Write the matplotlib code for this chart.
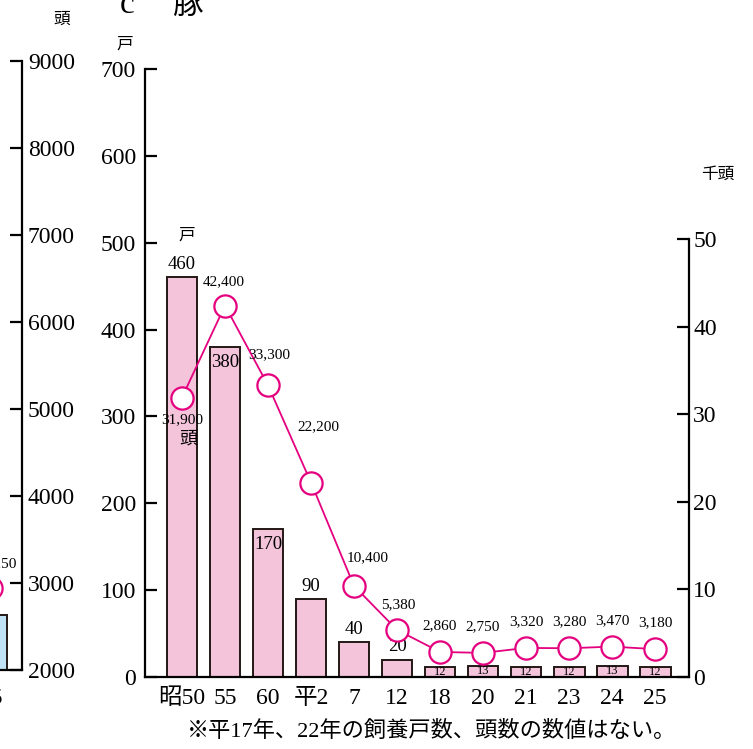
import matplotlib
matplotlib.use('Agg')
import matplotlib.pyplot as plt

plt.rcParams['font.family'] = ['Liberation Serif', 'Noto Sans CJK JP']

# data
years = ['昭50', '55', '60', '平2', '7', '12', '18', '20', '21', '23', '24', '25']
farms = [460, 380, 170, 90, 40, 20, 12, 13, 12, 12, 13, 12]          # 戸
heads = [31.9, 42.4, 33.3, 22.2, 10.4, 5.38, 2.86, 2.75, 3.32, 3.28, 3.47, 3.18]  # 千頭
head_labels = ['31,900', '42,400', '33,300', '22,200', '10,400', '5,380',
               '2,860', '2,750', '3,320', '3,280', '3,470', '3,180']

# fragment of the previous chart (cut off at the left edge)
prev_years = ['25']
prev_value = [2630]
prev_line = [2940]
prev_label = ['3,150']

PINK = '#f4c4db'
MAG = '#e4007f'
EDGE = '#231815'
BLUE = '#bfe3f5'

W, H = 753, 749
fig = plt.figure(figsize=(W / 100, H / 100), dpi=100)


def rect(x0, ytop, x1, ybot):
    return [x0 / W, 1 - ybot / H, (x1 - x0) / W, (ybot - ytop) / H]


# ---- main chart
ax = fig.add_axes(rect(145, 69, 689, 677))
xs = list(range(len(years)))
ax.bar(xs, farms, width=0.72, color=PINK, edgecolor=EDGE, linewidth=1.4, zorder=2)
ax.set_xlim(-0.86, 11.79)
ax.set_ylim(0, 700)
ax.set_yticks(range(0, 701, 100))
ax.set_xticks(xs)
ax.set_xticklabels(years)
for s in ['top', 'right']:
    ax.spines[s].set_visible(False)
ax.spines['left'].set_linewidth(1.6)
ax.spines['bottom'].set_linewidth(1.6)
ax.tick_params(axis='y', direction='in', length=8.6, width=1.6, pad=6.5, labelsize=17)
ax.tick_params(axis='x', length=0, pad=8, labelsize=17)

for i, v in enumerate(farms):
    if v >= 100 and i > 0:
        ax.annotate(str(v), (i, v), xytext=(0, -5), textcoords='offset points',
                    ha='center', va='top', fontsize=13.5)
    elif v >= 15:
        ax.annotate(str(v), (i, v), xytext=(0, 3), textcoords='offset points',
                    ha='center', va='bottom', fontsize=13.5)
    else:
        ax.text(i, v / 2, str(v), ha='center', va='center', fontsize=9)

ax2 = ax.twinx()
ax2.set_ylim(0, 69.4)
ax2.set_yticks(range(0, 51, 10))
ax2.spines['right'].set_bounds(0, 50)
for s in ['top', 'left', 'bottom']:
    ax2.spines[s].set_visible(False)
ax2.spines['right'].set_linewidth(1.6)
ax2.tick_params(axis='y', direction='in', length=8.6, width=1.6, pad=3, labelsize=17)
ax2.plot(xs, heads, color=MAG, lw=1.3, marker='o', ms=16, mfc='white', mec=MAG, mew=1.6, zorder=3)

# label offsets in points (dx, dy)
offs = [(0, -16), (-1, 17), (1, 22), (5, 40), (10, 20), (1, 18),
        (0, 19), (0, 19), (0, 19), (0, 19), (0, 19), (0, 19)]
for i, (v, lab) in enumerate(zip(heads, head_labels)):
    ax2.annotate(lab, (i, v), xytext=offs[i], textcoords='offset points',
                 ha='center', va='center', fontsize=11)

# ---- previous chart fragment
axl = fig.add_axes(rect(-97, 61, 22, 670))
axl.bar([0], prev_value, width=0.72, color=BLUE, edgecolor=EDGE, linewidth=1.4)
axl.plot([0], prev_line, color=MAG, marker='o', ms=16, mfc='white', mec=MAG, mew=1.6, clip_on=False)
axl.annotate(prev_label[0], (0, prev_line[0]), xytext=(6, 18), textcoords='offset points',
             ha='center', va='center', fontsize=11)
axl.set_xlim(-2.05, 0.72)
axl.set_ylim(2000, 9000)
axl.set_yticks(range(2000, 9001, 1000))
axl.set_xticks([0])
axl.set_xticklabels(prev_years)
axl.yaxis.tick_right()
for s in ['top', 'left']:
    axl.spines[s].set_visible(False)
axl.spines['right'].set_linewidth(1.6)
axl.spines['bottom'].set_linewidth(1.6)
axl.tick_params(axis='y', direction='in', length=8.6, width=1.6, pad=4.3, labelsize=17)
axl.tick_params(axis='x', length=0, pad=13, labelsize=17)

# ---- texts
fig.text(127 / W, 1 - 13 / H, 'c', fontsize=24, ha='center', va='baseline')
fig.text(188 / W, 1 - 14 / H, '豚', fontsize=22, ha='center', va='baseline')
fig.text(62 / W, 1 - 20 / H, '頭', fontsize=12, ha='center', va='center')
fig.text(125 / W, 1 - 45 / H, '戸', fontsize=12, ha='center', va='center')
fig.text(718 / W, 1 - 175 / H, '千頭', fontsize=12, ha='center', va='center')
fig.text(187 / W, 1 - 236 / H, '戸', fontsize=12, ha='center', va='center')
fig.text(188 / W, 1 - 439 / H, '頭', fontsize=13, ha='center', va='center')
fig.text(432 / W, 1 - 731 / H, '※平17年、22年の飼養戸数、頭数の数値はない。',
         fontsize=16, ha='center', va='center')

fig.savefig('out.png', dpi=100)
